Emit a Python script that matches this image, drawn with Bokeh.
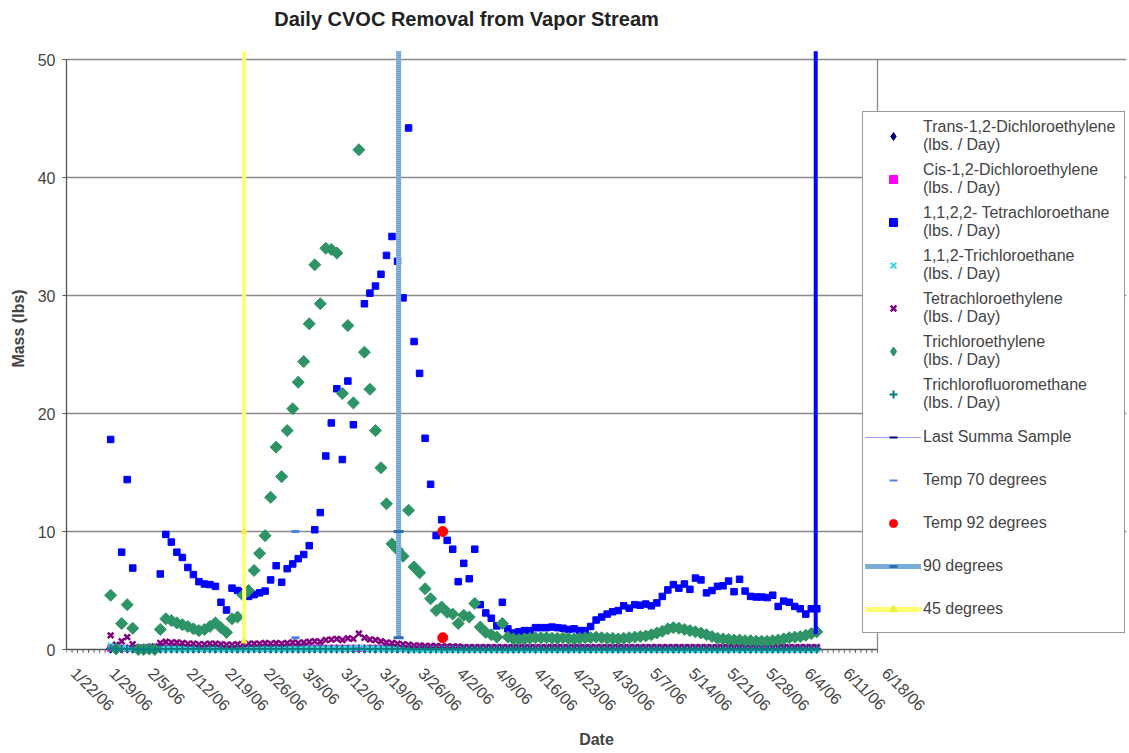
import math
import numpy as np
from bokeh.plotting import figure
from bokeh.models import ColumnDataSource, Range1d, FixedTicker, Legend, LegendItem, Label
from bokeh.embed import file_html
from bokeh.resources import INLINE

# ---------------- data ----------------
title_text = "Daily CVOC Removal from Vapor Stream"
tick_labels = ["1/22/06", "1/29/06", "2/5/06", "2/12/06", "2/19/06", "2/26/06", "3/5/06",
               "3/12/06", "3/19/06", "3/26/06", "4/2/06", "4/9/06", "4/16/06", "4/23/06",
               "4/30/06", "5/7/06", "5/14/06", "5/21/06", "5/28/06", "6/4/06", "6/11/06", "6/18/06"]

# sample days, counted in days after 1/22/06 (1/30/06 .. 6/6/06)
days = list(range(8, 137))

tetrachloroethane = [
    17.8, None, 8.25, 14.4, 6.9, None, None, None, None, 6.4,
    9.75, 9.1, 8.25, 7.8, 6.95, 6.35, 5.75, 5.55, 5.5, 5.35,
    4.0, 3.35, 5.2, 5.0, 4.9, 4.5, 4.65, 4.8, 4.95, 5.9,
    7.1, 5.7, 6.85, 7.25, 7.7, 8.05, 8.8, 10.15, 11.6, 16.4,
    19.2, 22.1, 16.1, 22.75, 19.05, None, 29.3, 30.2, 30.8, 31.8,
    33.4, 35.0, 32.9, 29.8, 44.2, 26.1, 23.4, 17.9, 14.0, 9.65,
    11.0, 9.25, 8.5, 5.75, 7.3, 6.0, 8.5, 3.8, 3.1, 2.65,
    2.0, 4.0, 1.75, 1.4, 1.5, 1.6, 1.6, 1.85, 1.85, 1.85,
    1.9, 1.85, 1.8, 1.7, 1.75, 1.6, 1.6, 1.95, 2.5, 2.75,
    3.0, 3.2, 3.3, 3.7, 3.5, 3.8, 3.75, 3.85, 3.7, 3.95,
    4.5, 5.05, 5.5, 5.2, 5.55, 5.1, 6.05, 5.9, 4.8, 5.0,
    5.35, 5.4, 5.8, 4.9, 5.95, 4.95, 4.5, 4.45, 4.45, 4.4,
    4.6, 3.65, 4.1, 4.0, 3.65, 3.45, 3.0, 3.45, 3.45]

trichloroethylene = [
    4.6, 0.05, 2.2, 3.8, 1.8, 0.0, 0.0, 0.05, 0.0, 1.7,
    2.6, 2.45, 2.25, 2.1, 1.95, 1.75, 1.6, 1.7, 1.95, 2.25,
    1.85, 1.45, 2.6, 2.75, 4.6, 5.0, 6.7, 8.15, 9.65, 12.9,
    17.15, 14.65, 18.55, 20.4, 22.65, 24.4, 27.6, 32.6, 29.3, 34.0,
    33.9, 33.6, 21.7, 27.45, 20.9, 42.35, 25.2, 22.05, 18.55, 15.4,
    12.35, 8.95, 8.45, 7.9, 11.8, 7.0, 6.5, 5.15, 4.3, 3.3,
    3.6, 3.15, 3.0, 2.2, 2.9, 2.75, 3.9, 1.9, 1.45, 1.25,
    1.05, 2.2, 1.05, 0.9, 0.85, 0.9, 0.95, 1.0, 1.0, 1.0,
    0.95, 0.95, 1.0, 0.95, 0.9, 0.95, 1.0, 1.0, 1.05, 1.0,
    0.95, 0.95, 0.9, 0.95, 1.0, 1.05, 1.1, 1.15, 1.25, 1.4,
    1.55, 1.75, 1.85, 1.8, 1.7, 1.6, 1.5, 1.4, 1.25, 1.1,
    0.95, 0.9, 0.85, 0.8, 0.8, 0.75, 0.75, 0.7, 0.7, 0.7,
    0.75, 0.8, 0.9, 1.0, 1.05, 1.1, 1.2, 1.35, 1.5]

tetrachloroethylene = [
    1.2, 0.4, 0.7, 1.05, 0.45, 0.15, 0.15, 0.2, 0.25, 0.55,
    0.65, 0.6, 0.6, 0.55, 0.5, 0.5, 0.45, 0.45, 0.5, 0.5,
    0.45, 0.4, 0.4, 0.45, 0.45, 0.5, 0.5, 0.5, 0.55, 0.5,
    0.55, 0.5, 0.55, 0.6, 0.55, 0.6, 0.65, 0.7, 0.65, 0.8,
    0.85, 0.9, 0.8, 0.95, 0.9, 1.35, 1.0, 0.85, 0.8, 0.7,
    0.6, 0.55, 0.5, 0.45, 0.4, 0.35, 0.35, 0.3, 0.3, 0.3,
    0.25, 0.25, 0.25, 0.25, 0.2, 0.2, 0.2, 0.2, 0.2, 0.2,
    0.2, 0.2, 0.2, 0.2, 0.2, 0.2, 0.2, 0.2, 0.2, 0.2,
    0.2, 0.2, 0.2, 0.2, 0.2, 0.2, 0.2, 0.2, 0.2, 0.2,
    0.2, 0.2, 0.2, 0.2, 0.2, 0.2, 0.2, 0.2, 0.2, 0.2,
    0.2, 0.2, 0.2, 0.2, 0.2, 0.2, 0.2, 0.2, 0.2, 0.2,
    0.2, 0.2, 0.2, 0.2, 0.2, 0.2, 0.2, 0.2, 0.2, 0.2,
    0.2, 0.2, 0.2, 0.2, 0.2, 0.2, 0.2, 0.2, 0.2]

trichloroethane = [
    0.35, 0.3, 0.1, 0.1, 0.05, 0.0, 0.0, 0.0, 0.0, 0.05,
    0.05, 0.05, 0.05, 0.05, 0.05, 0.05, 0.05, 0.05, 0.05, 0.05,
    0.05, 0.05, 0.05, 0.05, 0.05, 0.05, 0.05, 0.05, 0.05, 0.05,
    0.05, 0.05, 0.05, 0.05, 0.05, 0.05, 0.05, 0.05, 0.05, 0.05,
    0.05, 0.05, 0.05, 0.05, 0.1, 0.15, 0.1, 0.05, 0.05, 0.05,
    0.05, 0.05, 0.05, 0.05, 0.0, 0.0, 0.0, 0.0, 0.0, 0.0,
    0.0, 0.0, 0.0, 0.0, 0.0, 0.0, 0.0, 0.0, 0.0, 0.0,
    0.0, 0.0, 0.0, 0.0, 0.0, 0.0, 0.0, 0.0, 0.0, 0.0,
    0.0, 0.0, 0.0, 0.0, 0.0, 0.0, 0.0, 0.0, 0.0, 0.0,
    0.0, 0.0, 0.0, 0.0, 0.0, 0.0, 0.0, 0.0, 0.0, 0.0,
    0.0, 0.0, 0.0, 0.0, 0.0, 0.0, 0.0, 0.0, 0.0, 0.0,
    0.0, 0.0, 0.0, 0.0, 0.0, 0.0, 0.0, 0.0, 0.0, 0.0,
    0.0, 0.0, 0.0, 0.0, 0.0, 0.0, 0.0, 0.0, 0.0]

trans_dce = [
    0.05, 0.05, 0.05, 0.05, 0.05, 0.0, 0.0, 0.0, 0.0, 0.05,
    0.05, 0.05, 0.05, 0.05, 0.05, 0.05, 0.05, 0.05, 0.05, 0.05,
    0.05, 0.05, 0.05, 0.05, 0.05, 0.05, 0.05, 0.05, 0.05, 0.05,
    0.05, 0.05, 0.05, 0.05, 0.05, 0.05, 0.05, 0.05, 0.05, 0.05,
    0.05, 0.05, 0.05, 0.05, 0.05, 0.05, 0.05, 0.05, 0.05, 0.05,
    0.05, 0.05, 0.05, 0.05, 0.05, 0.05, 0.05, 0.05, 0.05, 0.05,
    0.05, 0.05, 0.05, 0.05, 0.05, 0.05, 0.05, 0.05, 0.05, 0.05,
    0.05, 0.05, 0.05, 0.05, 0.05, 0.05, 0.05, 0.05, 0.05, 0.05,
    0.05, 0.05, 0.05, 0.05, 0.05, 0.05, 0.05, 0.05, 0.05, 0.05,
    0.05, 0.05, 0.05, 0.05, 0.05, 0.05, 0.05, 0.05, 0.05, 0.05,
    0.05, 0.05, 0.05, 0.05, 0.05, 0.05, 0.05, 0.05, 0.05, 0.05,
    0.05, 0.05, 0.05, 0.05, 0.05, 0.05, 0.05, 0.05, 0.05, 0.05,
    0.05, 0.05, 0.05, 0.05, 0.05, 0.05, 0.05, 0.05, 0.05]

cis_dce = [
    0.1, 0.1, 0.1, 0.1, 0.1, 0.0, 0.0, 0.0, 0.0, 0.1,
    0.1, 0.1, 0.1, 0.1, 0.1, 0.1, 0.1, 0.1, 0.1, 0.1,
    0.1, 0.1, 0.1, 0.1, 0.1, 0.1, 0.1, 0.1, 0.1, 0.1,
    0.1, 0.1, 0.1, 0.1, 0.1, 0.1, 0.1, 0.1, 0.1, 0.1,
    0.1, 0.1, 0.1, 0.1, 0.1, 0.1, 0.1, 0.1, 0.1, 0.1,
    0.1, 0.1, 0.1, 0.1, 0.1, 0.1, 0.1, 0.1, 0.1, 0.1,
    0.1, 0.1, 0.1, 0.1, 0.1, 0.1, 0.1, 0.1, 0.1, 0.1,
    0.1, 0.1, 0.1, 0.1, 0.1, 0.1, 0.1, 0.1, 0.1, 0.1,
    0.1, 0.1, 0.1, 0.1, 0.1, 0.1, 0.1, 0.1, 0.1, 0.1,
    0.1, 0.1, 0.1, 0.1, 0.1, 0.1, 0.1, 0.1, 0.1, 0.1,
    0.1, 0.1, 0.1, 0.1, 0.1, 0.1, 0.1, 0.1, 0.1, 0.1,
    0.1, 0.1, 0.1, 0.1, 0.1, 0.1, 0.1, 0.1, 0.1, 0.1,
    0.1, 0.1, 0.1, 0.1, 0.1, 0.1, 0.1, 0.1, 0.1]

trichlorofluoromethane = [
    0.1, 0.05, 0.05, 0.05, 0.05, 0.0, 0.0, 0.0, 0.0, 0.05,
    0.05, 0.05, 0.05, 0.05, 0.05, 0.05, 0.05, 0.05, 0.05, 0.05,
    0.05, 0.05, 0.05, 0.05, 0.05, 0.05, 0.05, 0.05, 0.05, 0.05,
    0.05, 0.05, 0.05, 0.05, 0.05, 0.05, 0.05, 0.05, 0.05, 0.05,
    0.05, 0.05, 0.05, 0.05, 0.05, 0.05, 0.05, 0.05, 0.05, 0.05,
    0.05, 0.05, 0.05, 0.05, 0.02, 0.02, 0.02, 0.02, 0.02, 0.02,
    0.02, 0.02, 0.02, 0.02, 0.02, 0.02, 0.02, 0.02, 0.02, 0.02,
    0.02, 0.02, 0.02, 0.02, 0.02, 0.02, 0.02, 0.02, 0.02, 0.02,
    0.02, 0.02, 0.02, 0.02, 0.02, 0.02, 0.02, 0.02, 0.02, 0.02,
    0.02, 0.02, 0.02, 0.02, 0.02, 0.02, 0.02, 0.02, 0.02, 0.02,
    0.02, 0.02, 0.02, 0.02, 0.02, 0.02, 0.02, 0.02, 0.02, 0.02,
    0.02, 0.02, 0.02, 0.02, 0.02, 0.02, 0.02, 0.02, 0.02, 0.02,
    0.02, 0.02, 0.02, 0.02, 0.02, 0.02, 0.02, 0.02, 0.02]

# reference markers / vertical lines (day after 1/22/06, mass values)
summa_day = [135.8, 135.8]
summa_val = [1.3, 50.7]
temp70_day = [41.5, 41.5]
temp70_val = [10, 1]
temp92_day = [68.2, 68.2]
temp92_val = [10, 1]
deg90_day = [60.2, 60.2, 60.2]
deg90_val = [1, 10, 50.7]
deg45_day = [32.2, 32.2, 32.2]
deg45_val = [0.7, 10, 50.7]

legend_labels = ["Trans-1,2-Dichloroethylene\n(lbs. / Day)",
                 "Cis-1,2-Dichloroethylene\n(lbs. / Day)",
                 "1,1,2,2- Tetrachloroethane\n(lbs. / Day)",
                 "1,1,2-Trichloroethane\n(lbs. / Day)",
                 "Tetrachloroethylene\n(lbs. / Day)",
                 "Trichloroethylene\n(lbs. / Day)",
                 "Trichlorofluoromethane\n(lbs. / Day)",
                 "Last Summa Sample",
                 "Temp 70 degrees",
                 "Temp 92 degrees",
                 "90 degrees",
                 "45 degrees"]

# ---------------- layout ----------------
FONT = "Liberation Sans"
AXIS_END = 7 * (len(tick_labels) - 1)          # 6/18/06 = right edge of the plot area
PX_PER_DAY = 811 / AXIS_END
PX_PER_UNIT = 590 / 50
W, H = 1127, 752
BORDER_L, BORDER_R, BORDER_T, BORDER_B = 66, 1, 0, 96
PLOT_TOP, PLOT_BOTTOM = 59, 649                 # pixel rows of 50 and 0
X_END = (W - BORDER_L - BORDER_R) / PX_PER_DAY  # frame runs on under the legend
Y_END = 50 + (PLOT_TOP - BORDER_T) / PX_PER_UNIT
Y_START = -((H - BORDER_B) - PLOT_BOTTOM) / PX_PER_UNIT


def arr(v):
    return np.array([np.nan if a is None else a for a in v], dtype=float)


src = ColumnDataSource(dict(
    day=np.array(days, dtype=float),
    tetra=arr(tetrachloroethane), tce=arr(trichloroethylene), pce=arr(tetrachloroethylene),
    tca=arr(trichloroethane), trans=arr(trans_dce), cis=arr(cis_dce),
    cfc=arr(trichlorofluoromethane)))

p = figure(width=W, height=H, x_range=Range1d(0, X_END), y_range=Range1d(Y_START, Y_END),
           output_backend="svg", toolbar_location=None,
           min_border_left=BORDER_L, min_border_right=BORDER_R,
           min_border_top=BORDER_T, min_border_bottom=BORDER_B)

p.background_fill_color = "white"
p.border_fill_color = "white"
p.outline_line_color = None

p.add_layout(Label(x=(466 - BORDER_L) / PX_PER_DAY, y=50 + (PLOT_TOP - 18) / PX_PER_UNIT,
                   text=title_text, text_font=FONT, text_font_size="20px",
                   text_font_style="bold", text_align="center", text_baseline="middle",
                   text_color="#222222"))

p.xgrid.visible = False
p.ygrid.grid_line_color = "#8a8a8a"
p.ygrid.grid_line_width = 1.3
p.ygrid.ticker = FixedTicker(ticks=[10, 20, 30, 40, 50])
p.ygrid.bounds = (0, AXIS_END)

p.yaxis.ticker = FixedTicker(ticks=[0, 10, 20, 30, 40, 50])
p.yaxis.bounds = (0, 50)
p.yaxis.axis_label = "Mass (lbs)"
p.yaxis.axis_label_text_font = FONT
p.yaxis.axis_label_text_font_size = "16px"
p.yaxis.axis_label_text_font_style = "bold"
p.yaxis.axis_label_standoff = 8
p.yaxis.major_label_text_font = FONT
p.yaxis.major_label_text_font_size = "16px"
p.yaxis.major_label_standoff = 7
p.yaxis.axis_line_color = "#555555"
p.yaxis.axis_line_width = 1.3
p.yaxis.major_tick_line_color = "#555555"
p.yaxis.major_tick_out = 4
p.yaxis.major_tick_in = 0
p.yaxis.minor_tick_line_color = None

# x axis: labels from the axis, line and day ticks drawn at y = 0
label_shift = 1.3
p.xaxis.ticker = FixedTicker(ticks=[7 * i + label_shift for i in range(len(tick_labels))])
p.xaxis.major_label_overrides = {7 * i + label_shift: lab for i, lab in enumerate(tick_labels)}
p.xaxis.major_label_orientation = -math.pi / 4
p.xaxis.major_label_text_font = FONT
p.xaxis.major_label_text_font_size = "16px"
p.xaxis.major_label_standoff = 14
p.xaxis.axis_label = "Date"
p.xaxis.axis_label_text_font = FONT
p.xaxis.axis_label_text_font_size = "16px"
p.xaxis.axis_label_text_font_style = "bold"
p.xaxis.axis_label_standoff = 8
p.xaxis.axis_line_color = None
p.xaxis.major_tick_line_color = None
p.xaxis.major_tick_out = 0
p.xaxis.minor_tick_line_color = None

tick_days = list(range(0, AXIS_END + 1))
p.segment(x0=tick_days, y0=[0] * len(tick_days), x1=tick_days, y1=[-0.28] * len(tick_days),
          line_color="#555555", line_width=1)
p.line([0, AXIS_END], [0, 0], line_color="#555555", line_width=1.3)
p.line([AXIS_END, AXIS_END], [0, 50], line_color="#8a8a8a", line_width=1.3)

# series (drawing order as in the original)
p.scatter("day", "trans", source=src, marker="square", angle=math.pi / 4, size=6,
          color="#000080")
p.scatter("day", "cis", source=src, marker="square", size=6, color="#ff00ff")
p.scatter("day", "tetra", source=src, marker="square", size=6.5, color="#0000ff")
p.scatter("day", "tca", source=src, marker="x", size=8, line_width=2, color="#33dddd")
p.scatter("day", "pce", source=src, marker="x", size=8, line_width=2.5, color="#800080")
p.scatter("day", "tce", source=src, marker="square", angle=math.pi / 4, size=8.5,
          color="#2e9466")
p.scatter("day", "cfc", source=src, marker="cross", size=8, line_width=2, color="#008080")

p.line(summa_day, summa_val, line_color="#0000ff", line_width=4)
p.scatter(temp70_day, temp70_val, marker="dash", size=8, line_width=3, color="#4a86e8")
p.scatter(temp92_day, temp92_val, marker="circle", size=10, color="#ff0000")
p.line(deg90_day, deg90_val, line_color="#9cc3e6", line_width=5)
p.line(deg90_day, deg90_val, line_color="#5a96cf", line_width=5, line_dash="1 1")
p.scatter(deg90_day[:2], deg90_val[:2], marker="dash", size=10, line_width=3, color="#2f6db5")
p.line(deg45_day, deg45_val, line_color="#ffff70", line_width=4)
p.scatter(deg45_day[:2], deg45_val[:2], marker="triangle", size=6, color="#eeee44")

# legend glyphs (one invisible point each, so the legend has something to draw)
N = [np.nan]
lg = []
lg.append([p.scatter(N, N, marker="diamond", color="#000080")])
lg.append([p.scatter(N, N, marker="square", color="#ff00ff")])
lg.append([p.scatter(N, N, marker="square", color="#0000ff")])
lg.append([p.scatter(N, N, marker="x", line_width=2, color="#33dddd")])
lg.append([p.scatter(N, N, marker="x", line_width=2.5, color="#800080")])
lg.append([p.scatter(N, N, marker="diamond", line_width=1.5, color="#2e9466")])
lg.append([p.scatter(N, N, marker="cross", line_width=2, color="#008080")])
lg.append([p.line(N, N, line_color="#9999ff", line_width=1),
           p.scatter(N, N, marker="dash", line_width=2, color="#000080")])
lg.append([p.scatter(N, N, marker="dash", line_width=2, color="#4a86e8")])
lg.append([p.scatter(N, N, marker="circle", color="#ff0000")])
lg.append([p.line(N, N, line_color="#9cc3e6", line_width=5),
           p.line(N, N, line_color="#5a96cf", line_width=5, line_dash="1 1"),
           p.scatter(N, N, marker="dash", line_width=3, color="#2f6db5")])
lg.append([p.line(N, N, line_color="#ffff70", line_width=5),
           p.scatter(N, N, marker="triangle", color="#eeee44")])

frame_bottom = H - BORDER_B
legend = Legend(items=[LegendItem(label=lab, renderers=r) for lab, r in zip(legend_labels, lg)],
                location=(862 - BORDER_L, frame_bottom - 633))
legend.label_text_font = FONT
legend.label_text_font_size = "16px"
legend.label_height = 43
legend.label_width = 199
legend.glyph_height = 20
legend.glyph_width = 56
legend.label_standoff = 2
legend.spacing = 0
legend.padding = 2
legend.margin = 0
legend.border_line_color = "#333333"
legend.border_line_width = 1
legend.background_fill_color = "white"
legend.background_fill_alpha = 1.0
p.add_layout(legend)

open("out.html", "w").write(file_html(p, INLINE))
